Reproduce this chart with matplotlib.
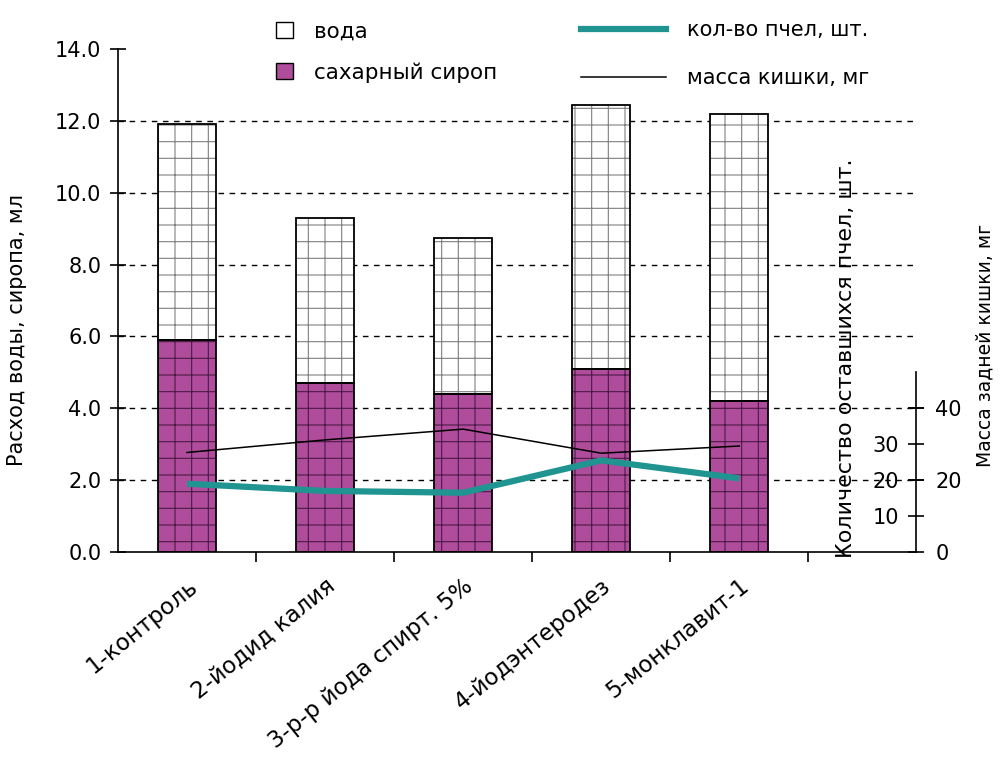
import numpy as np
import matplotlib.pyplot as plt
from matplotlib.patches import Patch
from matplotlib.lines import Line2D

plt.rcParams['font.family'] = ['DejaVu Sans']
plt.rcParams['hatch.linewidth'] = 0.8

# данные
groups = ['1-контроль', '2-йодид калия', '3-р-р йода спирт. 5%', '4-йодэнтеродез', '5-монклавит-1']
syrup = [5.9, 4.7, 4.4, 5.1, 4.2]
water = [6.0, 4.6, 4.35, 7.35, 8.0]
bees = [19.0, 17.0, 16.5, 25.5, 20.5]
gut_mass = [27.7, 31.2, 34.2, 27.5, 29.5]

purple = '#b04c9c'
teal = '#1f9490'

fig = plt.figure(figsize=(10, 7.61), dpi=100)
ax = fig.add_axes([0.118, 1 - 552 / 761, 0.798, 503 / 761])

x = np.arange(len(groups))
w = 0.42
# заливка со штриховкой, потом чёрный контур
ax.bar(x, syrup, w, color=purple, hatch='+', edgecolor='#4a1a45', linewidth=0, zorder=2)
ax.bar(x, water, w, bottom=syrup, color='white', hatch='+', edgecolor='#808080', linewidth=0, zorder=2)
ax.bar(x, syrup, w, fill=False, edgecolor='black', linewidth=1.3, zorder=3)
ax.bar(x, water, w, bottom=syrup, fill=False, edgecolor='black', linewidth=1.3, zorder=3)

ax.set_xlim(-0.5, 5.28)
ax.set_ylim(0, 14)
ax.set_yticks(np.arange(0, 15, 2))
ax.set_yticklabels(['%.1f' % v for v in np.arange(0, 15, 2)])
for v in range(2, 13, 2):
    ax.axhline(v, color='black', lw=1, ls=(0, (4, 4)), zorder=1)

ax.set_xticks(np.arange(0.5, 5, 1))
ax.set_xticklabels([])
ax.set_xticks(x, minor=True)
ax.set_xticklabels(groups, minor=True, rotation=39, ha='right', va='top',
                   rotation_mode='anchor', fontsize=16.5)
ax.tick_params(axis='x', which='minor', length=0, pad=16)
ax.tick_params(axis='x', which='major', direction='out', length=7, width=1.2)
ax.tick_params(axis='y', direction='inout', length=12, width=1.2, labelsize=15, pad=6)

for s in ['top', 'right']:
    ax.spines[s].set_visible(False)
for s in ['left', 'bottom']:
    ax.spines[s].set_linewidth(1.2)
ax.set_ylabel('Расход воды, сиропа, мл', fontsize=15)
ax.yaxis.set_label_coords(-0.114, (552 - 330) / 503)

# масса кишки — правая ось
ax2 = ax.twinx()
ax2.set_ylim(0, 140)
ax2.set_yticks([0, 20, 40])
ax2.tick_params(axis='y', direction='inout', length=12, width=1.2, labelsize=15, pad=8)
ax2.spines['right'].set_bounds(0, 50)
ax2.spines['right'].set_linewidth(1.2)
for s in ['top', 'left', 'bottom']:
    ax2.spines[s].set_visible(False)
ax2.plot(x, gut_mass, color='black', lw=1.1, zorder=4)

# количество пчёл — подписи слева от той же оси
ax3 = ax.twinx()
ax3.set_ylim(0, 140)
ax3.yaxis.tick_left()
ax3.spines['left'].set_position(('axes', 1.0))
ax3.set_yticks([10, 20, 30, 40])
ax3.set_yticklabels(['10', '20', '30', ''])
ax3.tick_params(axis='y', direction='inout', length=12, width=1.2, labelsize=15, pad=6)
for s in ['top', 'right', 'bottom', 'left']:
    ax3.spines[s].set_visible(False)
ax3.plot(x, bees, color=teal, lw=4.5, solid_capstyle='butt', zorder=4)

fig.text(0.846, 1 - 358 / 761, 'Количество оставшихся пчел, шт.', rotation=90,
         ha='center', va='center', fontsize=16)
fig.text(0.985, 1 - 345 / 761, 'Масса задней кишки, мг', rotation=90,
         ha='center', va='center', fontsize=13.5)

leg1 = fig.legend([Patch(facecolor='white', edgecolor='black'),
                   Patch(facecolor=purple, edgecolor='black')],
                  ['вода', 'сахарный сироп'], loc='upper left',
                  bbox_to_anchor=(0.257, 0.997), frameon=False, fontsize=15.5,
                  handlelength=0.75, handleheight=0.75, labelspacing=0.95, handletextpad=1.0)
leg2 = fig.legend([Line2D([], [], color=teal, lw=4.5), Line2D([], [], color='black', lw=1.1)],
                  ['кол-во пчел, шт.', 'масса кишки, мг'], loc='upper left',
                  bbox_to_anchor=(0.562, 0.998), frameon=False, fontsize=15,
                  handlelength=4.1, labelspacing=1.35, handletextpad=1.0)

fig.savefig('out.png', dpi=100)
